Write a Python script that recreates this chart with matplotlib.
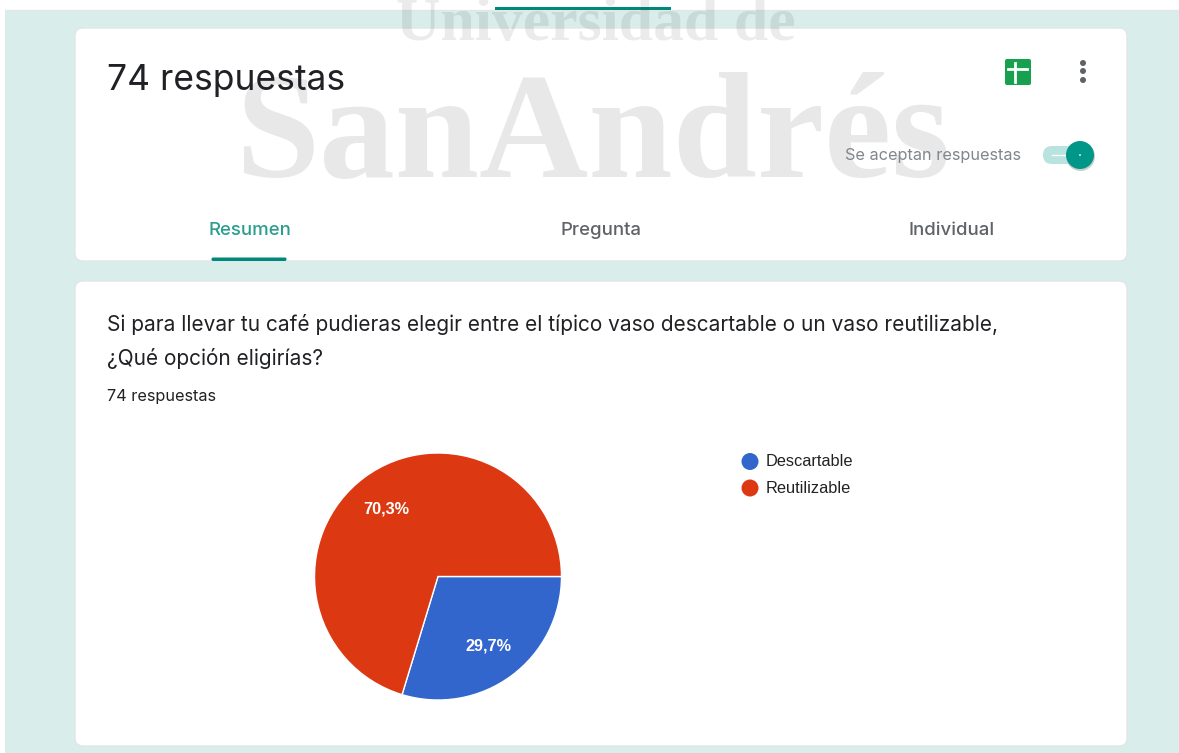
import matplotlib
matplotlib.use("Agg")
import matplotlib.pyplot as plt
from matplotlib.patches import FancyBboxPatch, Rectangle, Circle

W, H = 1179, 753

# datos del grafico
categories = ["Descartable", "Reutilizable"]
values = [29.7, 70.3]
value_labels = ["29,7%", "70,3%"]
colors = ["#3366cc", "#dc3912"]

header_title = "74 respuestas"
question_lines = ["Si para llevar tu café pudieras elegir entre el típico vaso descartable o un vaso reutilizable,",
                  "¿Qué opción eligirías?"]
tabs = ["Resumen", "Pregunta", "Individual"]

plt.rcParams["font.family"] = ["Inter", "DejaVu Sans"]

fig = plt.figure(figsize=(W / 100, H / 100), dpi=100, facecolor="white")
ax = fig.add_axes([0, 0, 1, 1])


def Y(py):
    return H - py


def label(x, py, s, size, color="#202124", ha="left", **kw):
    ax.text(x, Y(py), s, fontsize=size, color=color, ha=ha, va="center", zorder=6, **kw)


def card(x0, y0, x1, y1):
    ax.add_patch(FancyBboxPatch((x0 + 8, Y(y1) + 8), x1 - x0 - 16, y1 - y0 - 16,
                                boxstyle="round,pad=8,rounding_size=8",
                                fc="white", ec="#e0e6e6", lw=1, zorder=2))


# fondo de la pagina
ax.add_patch(Rectangle((5, 0), W - 5, H - 10, fc="#d9edeb", ec="none", zorder=1))
ax.plot([5, W], [Y(10), Y(10)], color="#e3e6e6", lw=1, zorder=1)
ax.add_patch(Rectangle((495, Y(9.5)), 176, 3, fc="#00897b", ec="none", zorder=1))

card(75, 28, 1127, 261)
card(75, 281, 1127, 746)

# marca de agua
ax.text(596, Y(40), "Universidad de", fontsize=44.5, family="Liberation Serif", fontweight="bold",
        color="black", alpha=0.08, ha="center", va="baseline", zorder=4)
ax.text(594, Y(177), "SanAndrés", fontsize=109, family="Liberation Serif", fontweight="bold",
        color="black", alpha=0.09, ha="center", va="baseline", zorder=4)

# encabezado
label(107, 80, header_title, 25.5, color="#202124")
label(1021, 155.5, "Se aceptan respuestas", 11.7, color="#80868b", ha="right")
tab_x = [250, 601, 952]
tab_colors = ["#2a9d8f", "#5f6368", "#5f6368"]
for x, t, c in zip(tab_x, tabs, tab_colors):
    label(x, 230.5, t, 13.4, color=c, ha="center", fontweight="medium")
ax.add_patch(FancyBboxPatch((213, Y(259.5)), 72, 0.5, boxstyle="round,pad=1.5,rounding_size=1.5",
                            fc="#00897b", ec="none", zorder=5))

# icono de hoja de calculo
ax.add_patch(FancyBboxPatch((1006, Y(84)), 24, 24, boxstyle="round,pad=1,rounding_size=2",
                            fc="#16a04f", ec="none", zorder=5))
ax.plot([1008, 1027], [Y(69), Y(69)], color="white", lw=2, zorder=6)
ax.plot([1015, 1015], [Y(63), Y(82)], color="white", lw=2, zorder=6)
# menu de tres puntos
for py in [63, 71, 80]:
    ax.add_patch(Circle((1083, Y(py)), 3, fc="#5f6368", ec="none", zorder=6))
# interruptor
ax.add_patch(FancyBboxPatch((1052, Y(155)), 28, 0, boxstyle="round,pad=9,rounding_size=9",
                            fc="#b9e3de", ec="none", zorder=5))
ax.plot([1052, 1066], [Y(155), Y(155)], color="white", lw=1, zorder=6)
ax.add_patch(Circle((1080.5, Y(156.5)), 14.5, fc="#c9cfcf", ec="none", zorder=5))
ax.add_patch(Circle((1080, Y(155)), 14, fc="#009688", ec="none", zorder=6))
ax.add_patch(Circle((1080, Y(155)), 0.9, fc="white", ec="none", zorder=7))

# pregunta
label(107, 324, question_lines[0], 15)
label(107, 358, question_lines[1], 15)
label(107, 396.5, "74 respuestas", 11.7, color="#202124")

# torta
wedges, _ = ax.pie(values, colors=colors, startangle=0, counterclock=False,
                   center=(438, Y(576.5)), radius=123.5, frame=True,
                   wedgeprops={"edgecolor": "white", "linewidth": 1, "zorder": 5})
label(488, 646, value_labels[0], 11.7, color="white", ha="center", fontweight="bold",
      family=["Liberation Sans"])
label(386, 509, value_labels[1], 11.7, color="white", ha="center", fontweight="bold",
      family=["Liberation Sans"])

# leyenda
legend_y = [461.5, 488]
for py, name, c in zip(legend_y, categories, colors):
    ax.add_patch(Circle((750, Y(py)), 8.5, fc=c, ec="none", zorder=6))
    label(765.5, py, name, 11.8, color="#222222", family=["Liberation Sans"])

ax.set_xlim(0, W)
ax.set_ylim(0, H)
ax.set_aspect("auto")
ax.axis("off")

fig.savefig("out.png", dpi=100, facecolor="white")
